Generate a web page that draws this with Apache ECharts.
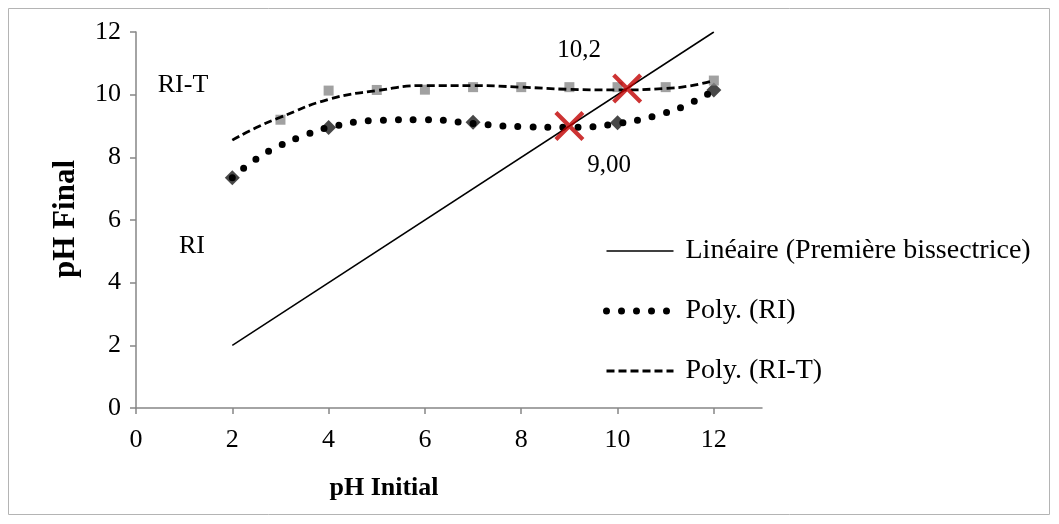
<!DOCTYPE html>
<html>
<head>
<meta charset="utf-8">
<script src="https://cdn.jsdelivr.net/npm/echarts@6/dist/echarts.min.js"></script>
<style>
html,body{margin:0;padding:0;background:#fff;}
#chart{width:1059px;height:524px;}
</style>
</head>
<body>
<div id="chart"></div>
<script>
// ---- data ----
var xTicks = [0, 2, 4, 6, 8, 10, 12];
var yTicks = [0, 2, 4, 6, 8, 10, 12];

var riX = [2, 4, 7, 10, 12];
var riY = [7.35, 8.95, 9.12, 9.1, 10.15];

var ritX = [3, 4, 5, 6, 7, 8, 9, 10, 11, 12];
var ritY = [9.2, 10.13, 10.15, 10.16, 10.24, 10.24, 10.24, 10.24, 10.24, 10.45];

var bisX = [2, 12];
var bisY = [2, 12];

var polyRiX = [2, 2.5, 3, 3.5, 4, 5, 6, 7, 8, 9, 10, 11, 11.5, 12];
var polyRiY = [7.35, 7.95, 8.38, 8.7, 8.95, 9.18, 9.2, 9.08, 8.98, 8.96, 9.08, 9.42, 9.72, 10.13];

var polyRitX = [2, 2.5, 3, 4, 5, 6, 7, 8, 9, 10, 11, 11.5, 12];
var polyRitY = [8.55, 8.95, 9.28, 9.85, 10.13, 10.29, 10.29, 10.24, 10.17, 10.15, 10.2, 10.28, 10.45];

var crossX = [9, 10.2];
var crossY = [9.0, 10.2];

var seriesNames = ['Linéaire (Première bissectrice)', 'Poly. (RI)', 'Poly. (RI-T)'];

function pairs(xs, ys) { return xs.map(function (x, i) { return [x, ys[i]]; }); }

var FONT = '"Liberation Serif", "Times New Roman", serif';
var AXIS_COLOR = '#868686';

var solidStyle = { color: '#000', width: 1.5, type: 'solid' };
var dotStyle = { color: '#000', width: 7, type: [0, 15], cap: 'round' };
var dashStyle = { color: '#000', width: 2.8, type: [8, 4] };

var chart = echarts.init(document.getElementById('chart'));
chart.setOption({
  animation: false,
  backgroundColor: '#ffffff',
  grid: { left: 136, right: 297, top: 32, bottom: 116, containLabel: false },
  xAxis: {
    type: 'value', min: 0, max: 13, interval: 2,
    axisLine: { show: true, lineStyle: { color: AXIS_COLOR, width: 1.5 } },
    axisTick: { show: true, length: 6, customValues: xTicks, lineStyle: { color: AXIS_COLOR, width: 1.5 } },
    axisLabel: { customValues: xTicks, margin: 19, color: '#000', fontFamily: FONT, fontSize: 26 },
    splitLine: { show: false }
  },
  yAxis: {
    type: 'value', min: 0, max: 12, interval: 2,
    axisLine: { show: true, lineStyle: { color: AXIS_COLOR, width: 1.5 } },
    axisTick: { show: true, length: 6, customValues: yTicks, lineStyle: { color: AXIS_COLOR, width: 1.5 } },
    axisLabel: { customValues: yTicks, margin: 15, color: '#000', fontFamily: FONT, fontSize: 26 },
    splitLine: { show: false }
  },
  legend: {
    data: [
      { name: seriesNames[0], lineStyle: solidStyle, itemStyle: { opacity: 0 } },
      { name: seriesNames[1], lineStyle: dotStyle, itemStyle: { opacity: 0 } },
      { name: seriesNames[2], lineStyle: dashStyle, itemStyle: { opacity: 0 } }
    ],
    orient: 'vertical',
    left: 598, top: 232,
    itemWidth: 67, itemHeight: 14, itemGap: 32,
    itemStyle: { opacity: 0 },
    textStyle: { fontFamily: FONT, fontSize: 28, color: '#000', padding: [0, 0, 0, 7] }
  },
  series: [
    {
      name: 'RI', type: 'scatter', data: pairs(riX, riY),
      symbol: 'diamond', symbolSize: 15, itemStyle: { color: '#1a1a1a' }, z: 2
    },
    {
      name: 'RI-T', type: 'scatter', data: pairs(ritX, ritY),
      symbol: 'rect', symbolSize: 10, itemStyle: { color: '#8a8a8a' }, z: 2
    },
    {
      name: seriesNames[0], type: 'line', data: pairs(bisX, bisY),
      symbol: 'none', lineStyle: solidStyle, itemStyle: { color: '#000' }, z: 3
    },
    {
      name: seriesNames[1], type: 'line', data: pairs(polyRiX, polyRiY), smooth: 0.5,
      symbol: 'none', lineStyle: dotStyle, itemStyle: { color: '#000' }, z: 4
    },
    {
      name: seriesNames[2], type: 'line', data: pairs(polyRitX, polyRitY), smooth: 0.5,
      symbol: 'none', lineStyle: dashStyle, itemStyle: { color: '#000' }, z: 4
    },
    {
      name: 'cross', type: 'scatter', data: pairs(crossX, crossY),
      symbol: 'path://M0,2 L2,0 L10,8 L18,0 L20,2 L12,10 L20,18 L18,20 L10,12 L2,20 L0,18 L8,10 Z',
      symbolSize: [30, 30], itemStyle: { color: '#c00000' }, z: 6
    }
  ],
  graphic: [
    { type: 'rect', shape: { x: 8.5, y: 8.5, width: 1041, height: 506 }, style: { fill: 'none', stroke: '#b4b4b4', lineWidth: 1 }, silent: true, z: -1 },
    { type: 'text', x: 183, y: 85, style: { text: 'RI-T', font: '26px ' + FONT, fill: '#000', align: 'center', verticalAlign: 'middle' } },
    { type: 'text', x: 192, y: 246, style: { text: 'RI', font: '26px ' + FONT, fill: '#000', align: 'center', verticalAlign: 'middle' } },
    { type: 'text', x: 579, y: 50, style: { text: '10,2', font: '25px ' + FONT, fill: '#000', align: 'center', verticalAlign: 'middle' } },
    { type: 'text', x: 609, y: 165, style: { text: '9,00', font: '25px ' + FONT, fill: '#000', align: 'center', verticalAlign: 'middle' } },
    { type: 'text', x: 384, y: 488, style: { text: 'pH Initial', font: 'bold 26px ' + FONT, fill: '#000', align: 'center', verticalAlign: 'middle' } },
    { type: 'text', x: 66, y: 219, rotation: Math.PI / 2, style: { text: 'pH Final', font: 'bold 31px ' + FONT, fill: '#000', align: 'center', verticalAlign: 'middle' } }
  ]
});
</script>
</body>
</html>
